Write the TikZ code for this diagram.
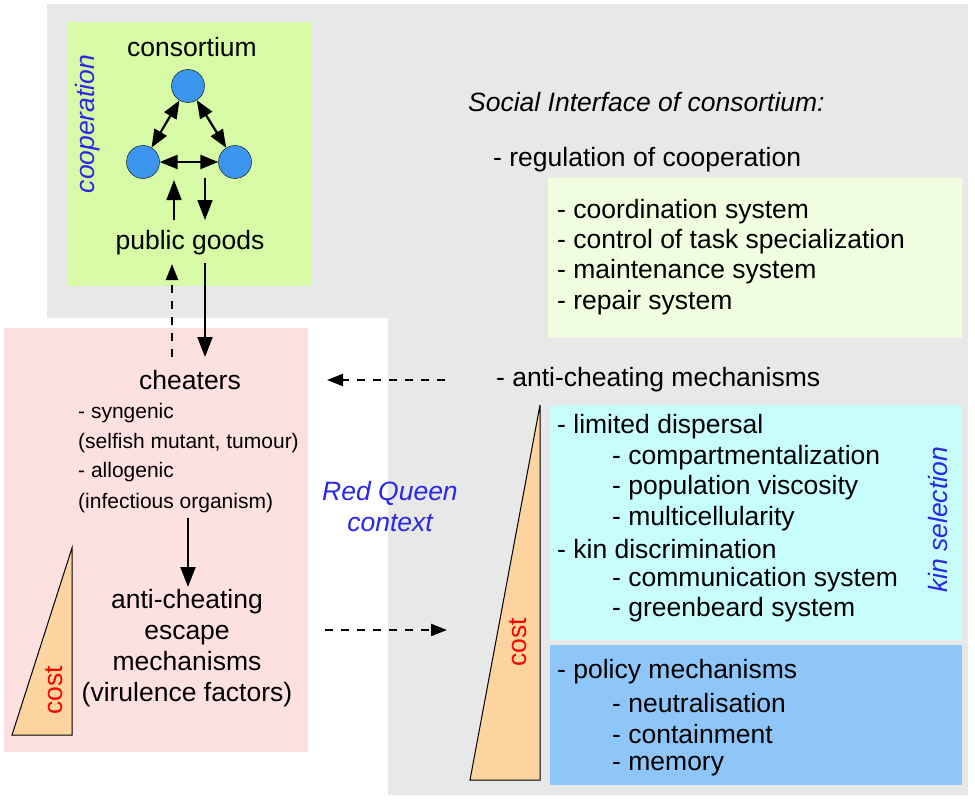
\documentclass[tikz,border=0pt]{standalone}
\usepackage{fontspec}
\setmainfont{Liberation Sans}
\usetikzlibrary{arrows.meta}
\definecolor{greybg}{RGB}{232,232,232}
\definecolor{coopgreen}{RGB}{214,250,165}
\definecolor{palegreen}{RGB}{240,253,222}
\definecolor{pinkbg}{RGB}{253,225,224}
\definecolor{cyanbg}{RGB}{200,253,253}
\definecolor{bluebg}{RGB}{142,198,250}
\definecolor{costfill}{RGB}{252,212,160}
\definecolor{cell}{RGB}{60,150,240}
\definecolor{labelblue}{RGB}{40,40,230}
\tikzset{
	big/.style={font=\fontsize{26.5}{31}\selectfont},
	item/.style={font=\fontsize{26.5}{31}\selectfont,anchor=west,inner sep=0pt},
	small/.style={font=\fontsize{21}{24}\selectfont,anchor=west,inner sep=0pt},
	slanted/.style={text=labelblue,font=\fontsize{26.5}{31}\selectfont\itshape},
	cellnode/.style={circle,draw=black,fill=cell,minimum size=33pt,inner sep=0pt},
	arr/.style={-{Triangle[length=20pt,width=15pt]},line width=2.2pt},
	darr/.style={{Triangle[length=18pt,width=14pt]}-{Triangle[length=18pt,width=14pt]},line width=2.2pt},
	dasharr/.style={arr,-{Triangle[length=16pt,width=12pt]},dash pattern=on 8pt off 8pt},
	costtri/.style={draw=black,line width=1pt,fill=costfill}
}
\begin{document}
\begin{tikzpicture}[x=1pt,y=-1pt]
	\useasboundingbox (0,0) rectangle (975,800);
	%backgrounds
	\fill[greybg] (47,4) -- (968,4) -- (968,795) -- (388,795) -- (388,318) -- (47,318) -- cycle;
	\fill[coopgreen] (67,22) rectangle (312,286);
	\fill[palegreen] (548,178) rectangle (962,338);
	\fill[pinkbg] (4,328) rectangle (308,752);
	\fill[cyanbg] (550,405) rectangle (962,640);
	\fill[bluebg] (550,645) rectangle (962,785);
	%cost wedges
	\draw[costtri] (12,735) -- (72,735) -- (72,548) -- cycle;
	\node[rotate=90,text=red,big] (costleft) at (54,690) {cost};
	\draw[costtri] (470,780) -- (540,780) -- (540,405) -- cycle;
	\node[rotate=90,text=red,big] (costright) at (518,642) {cost};
	%consortium
	\node[big] (consortium) at (192,47) {consortium};
	\node[cellnode] (ctop) at (188,86) {};
	\node[cellnode] (cleft) at (143,162) {};
	\node[cellnode] (cright) at (235,162) {};
	\draw[darr] (ctop) -- (cleft);
	\draw[darr] (ctop) -- (cright);
	\draw[darr] (cleft) -- (cright);
	\node[big] (goods) at (190,243) {public goods};
	\draw[arr,line width=1.6pt] (174,220) -- (174,180);
	\draw[arr,line width=1.6pt] (205,178) -- (205,220);
	\node[rotate=90,slanted] (coop) at (88,124) {cooperation};
	%cheaters
	\node[big] (cheaters) at (190,380) {cheaters};
	\draw[arr] (205,263) -- (205,357);
	\draw[dasharr] (172,357) -- (172,264);
	\node[small] (syn) at (78,413) {- syngenic};
	\node[small] (synb) at (78,443) {(selfish mutant, tumour)};
	\node[small] (allo) at (78,472) {- allogenic};
	\node[small] (allob) at (78,503) {(infectious organism)};
	\draw[arr] (188,518) -- (188,587);
	\node[big,align=center] (escape) at (187,648) {anti-cheating\\escape\\mechanisms\\(virulence factors)};
	\node[align=center,slanted] (redqueen) at (390,507) {Red Queen\\context};
	%social interface
	\node[item,font=\fontsize{26.5}{31}\selectfont\itshape] (social) at (468,102) {Social Interface of consortium:};
	\node[item] (regul) at (493,160) {- regulation of cooperation};
	\foreach \y/\t [count=\i] in {212/coordination system,242/control of task specialization,272/maintenance system,303/repair system}
	\node[item] (reg\i) at (557,\y) {- \t};
	\node[item] (anti) at (496,380) {- anti-cheating mechanisms};
	\draw[dasharr] (445,380) -- (327,380);
	\draw[dasharr] (325,630) -- (447,630);
	\node[item] (limited) at (557,427) {- limited dispersal};
	\foreach \y/\t [count=\i] in {458/compartmentalization,488/population viscosity,519/multicellularity}
	\node[item] (lim\i) at (612,\y) {- \t};
	\node[item] (kin) at (557,549) {- kin discrimination};
	\foreach \y/\t [count=\i] in {580/communication system,610/greenbeard system}
	\node[item] (kin\i) at (612,\y) {- \t};
	\node[rotate=90,slanted] (kinsel) at (938,520) {kin selection};
	\node[item] (policy) at (557,672) {- policy mechanisms};
	\foreach \y/\t [count=\i] in {703/neutralisation,734/containment,766/memory}
	\node[item] (pol\i) at (612,\y) {- \t};
\end{tikzpicture}
\end{document}
